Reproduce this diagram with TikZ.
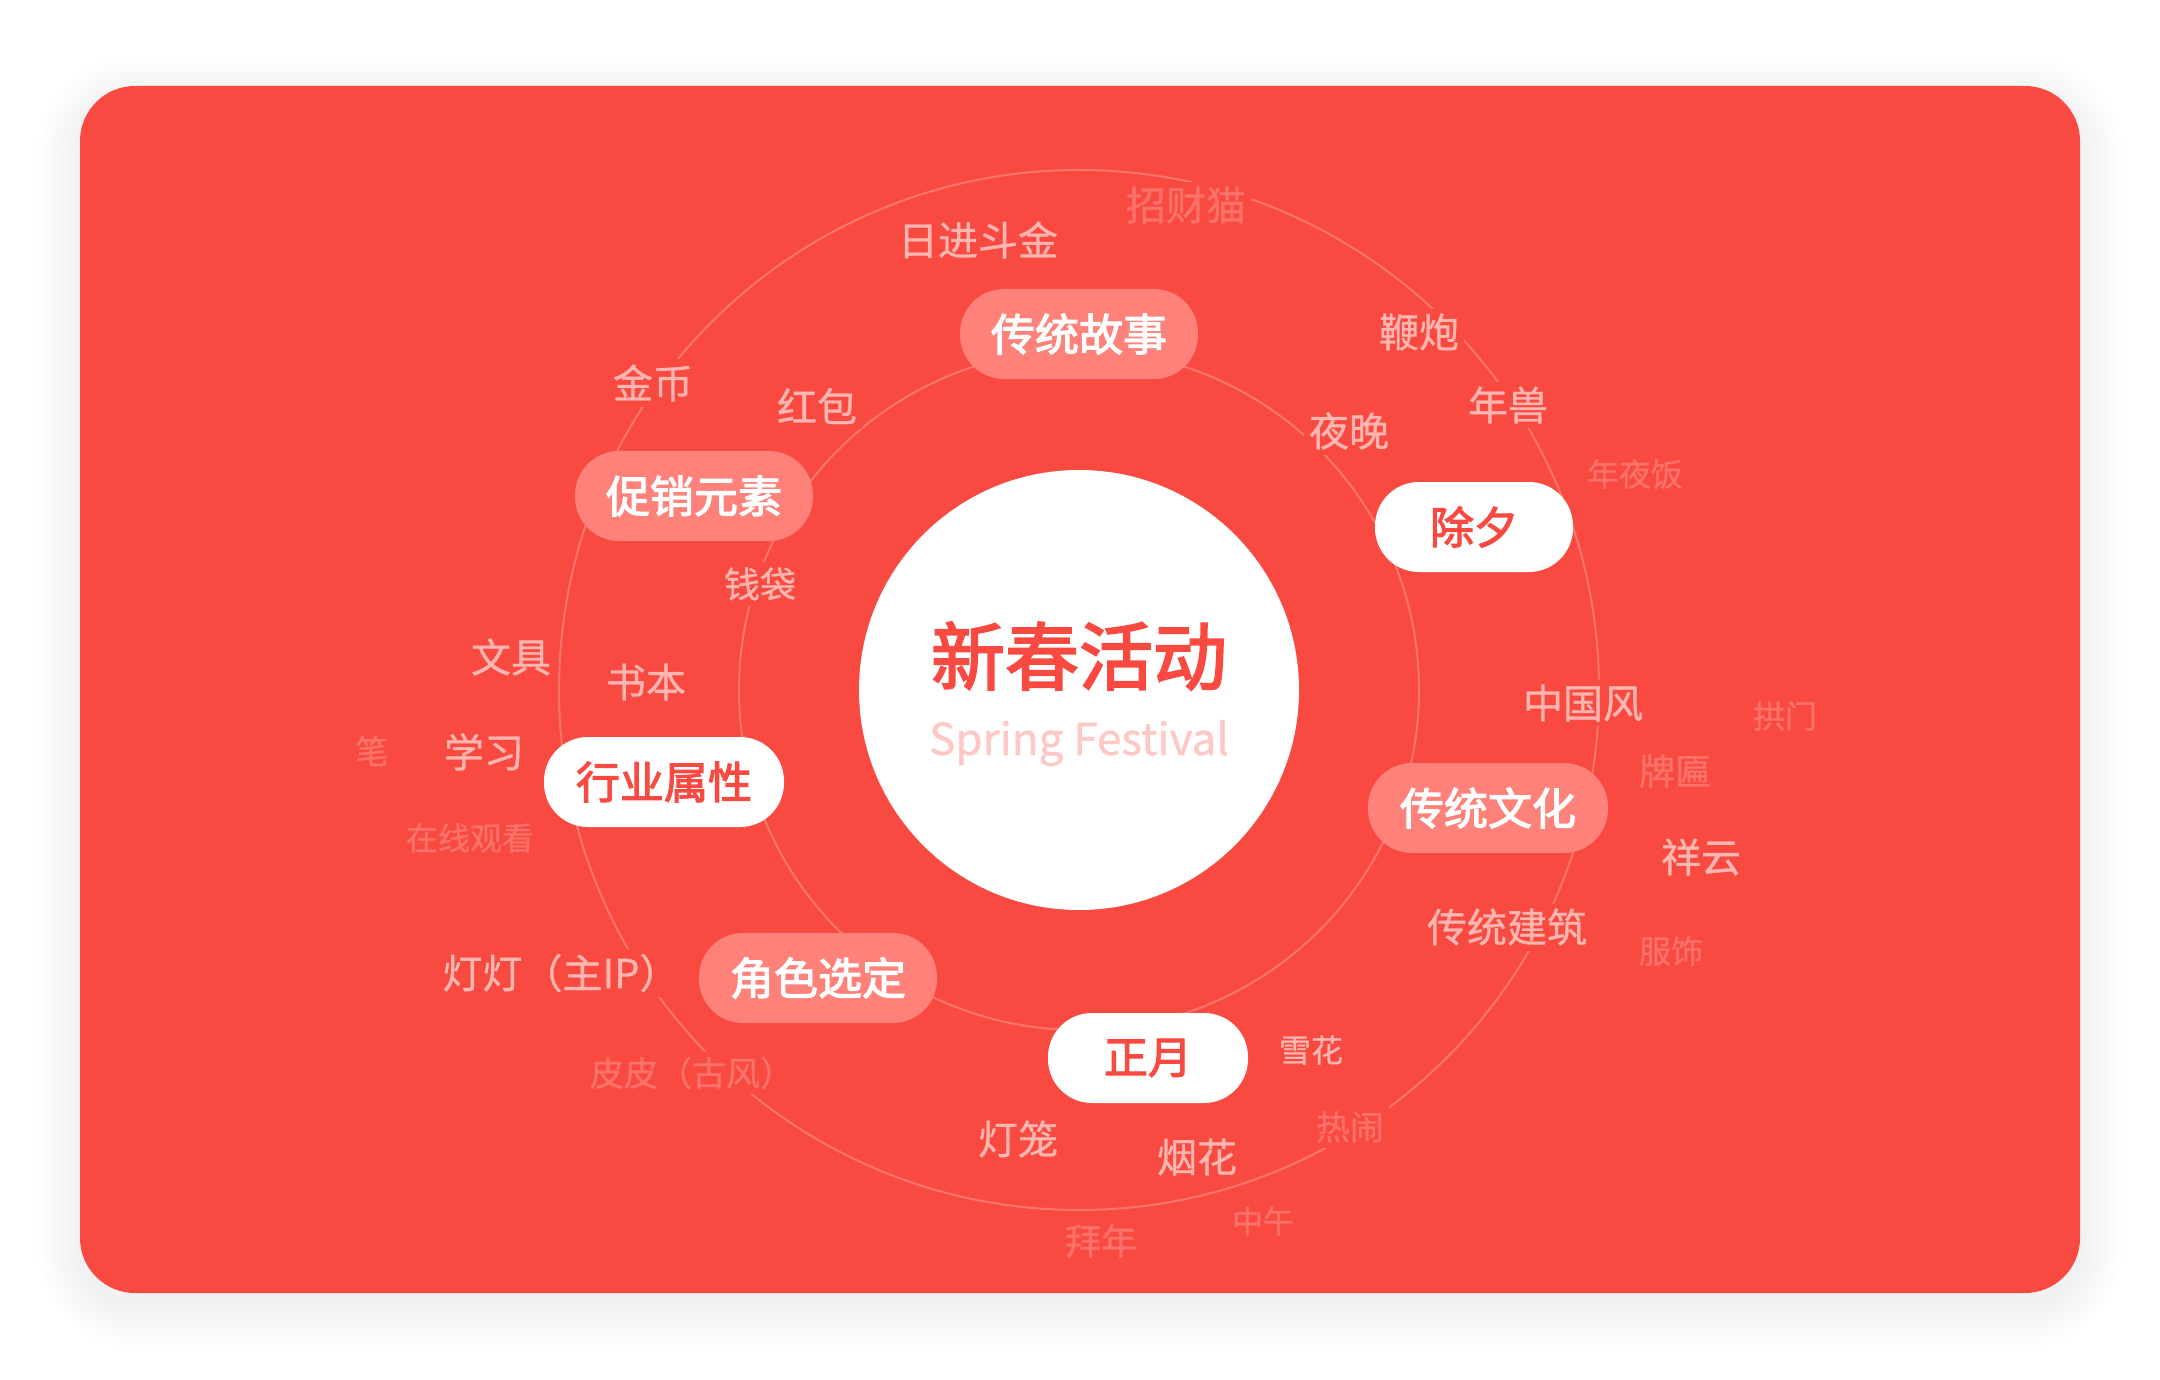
\documentclass[tikz,border=0pt]{standalone}
\usepackage{fontspec}
\setmainfont{Noto Sans CJK SC}
\newfontfamily\pillfont[FakeBold=2.6]{Noto Sans CJK SC}
\newfontfamily\tagfont[FakeBold=0.8]{Noto Sans CJK SC}

\definecolor{festred}{RGB}{249,74,65}
\definecolor{pillpink}{RGB}{255,130,122}
\definecolor{tagpale}{RGB}{255,182,176}
\definecolor{tagfaint}{RGB}{252,114,106}
\definecolor{ringpink}{RGB}{253,118,110}
\definecolor{subpink}{RGB}{255,200,197}

\tikzset{
  ring/.style={draw=ringpink, line width=1pt},
  tagA/.style={fill=festred, inner sep=2.5pt, text=tagpale, font=\tagfont\fontsize{#1}{#1}\selectfont},
  tagA/.default=20,
  tagB/.style={fill=festred, inner sep=2.5pt, text=tagfaint, font=\tagfont\fontsize{#1}{#1}\selectfont},
  tagB/.default=16,
  pillsoft/.style={fill=pillpink, text=white, rounded corners=22pt, minimum height=45pt, minimum width=#1, inner sep=0pt, font=\pillfont\fontsize{22}{22}\selectfont},
  pillsoft/.default=119pt,
  pillwhite/.style={fill=white, text=festred, rounded corners=22pt, minimum height=45pt, minimum width=#1, inner sep=0pt, font=\pillfont\fontsize{22}{22}\selectfont},
  pillwhite/.default=119pt,
}

\begin{document}
\begin{tikzpicture}[x=0.5pt,y=0.5pt,yscale=-1]
  \useasboundingbox (0,0) rectangle (2160,1380);
  
  %Shape: card shadow
  \foreach \s in {3,6,...,42}
    \fill[black, opacity=0.0045, rounded corners=27.5pt+\s*0.5pt] (80-\s,86-\s+12) rectangle (2080+\s,1293+\s+12);
  %Shape: card
  \fill[festred, rounded corners=27.5pt] (80,86) rectangle (2080,1293);
  
  %Shape: rings
  \draw[ring] (1079,690) circle (340);
  \draw[ring] (1079,690) circle (520);
  
  %Labels: near words
  \node[tagA] (rijin) at (978,240) {日进斗金};
  \node[tagA] (jinbi) at (653,383) {金币};
  \node[tagA] (hongbao) at (817,406) {红包};
  \node[tagA=18] (qiandai) at (760,584) {钱袋};
  \node[tagA] (bianpao) at (1419,332) {鞭炮};
  \node[tagA] (nianshou) at (1508,405) {年兽};
  \node[tagA] (yewan) at (1349,431) {夜晚};
  \node[tagA] (wenju) at (511,657) {文具};
  \node[tagA] (shuben) at (646,682) {书本};
  \node[tagA] (xuexi) at (484,752) {学习};
  \node[tagA] (zhongguofeng) at (1583,703) {中国风};
  \node[tagA] (xiangyun) at (1701,857) {祥云};
  \node[tagA] (jianzhu) at (1507,927) {传统建筑};
  \node[tagA] (dengdeng) at (561,973) {灯灯（主IP）};
  \node[tagA=16] (xuehua) at (1311,1050) {雪花};
  \node[tagA] (denglong) at (1018,1139) {灯笼};
  \node[tagA] (yanhua) at (1197,1157) {烟花};
  
  %Labels: far words
  \node[tagB=20] (zhaocai) at (1186,205) {招财猫};
  \node[tagB] (nianyefan) at (1635,474) {年夜饭};
  \node[tagB] (gongmen) at (1785,716) {拱门};
  \node[tagB=18] (paibian) at (1675,771) {牌匾};
  \node[tagB] (fushi) at (1671,951) {服饰};
  \node[tagB=16.5] (bi) at (372,751) {笔};
  \node[tagB] (zaixian) at (470,838) {在线观看};
  \node[tagB=17] (pipi) at (692,1073) {皮皮（古风）};
  \node[tagB=17] (renao) at (1350,1127) {热闹};
  \node[tagB=15.5] (zhongwu) at (1263,1221) {中午};
  \node[tagB=18] (bainian) at (1101,1241) {拜年};
  
  %Shape: topic pills
  \node[pillsoft] (gushi) at (1079,334) {传统故事};
  \node[pillsoft] (cuxiao) at (694,496) {促销元素};
  \node[pillwhite=99pt] (chuxi) at (1474,527) {除夕};
  \node[pillwhite=120pt] (hangye) at (664,782) {行业属性};
  \node[pillsoft=120pt] (wenhua) at (1488,808) {传统文化};
  \node[pillsoft] (juese) at (818,978) {角色选定};
  \node[pillwhite=100pt] (zhengyue) at (1148,1058) {正月};
  
  %Shape: hub
  \node[circle, fill=white, minimum size=220pt, inner sep=0pt] (hub) at (1079,690) {};
  \node[text=festred, font=\pillfont\fontsize{37}{37}\selectfont] (title) at (1079,656) {新春活动};
  \node[text=subpink, font=\tagfont\fontsize{22}{22}\selectfont] (subtitle) at (1079,743) {Spring Festival};
\end{tikzpicture}
\end{document}
